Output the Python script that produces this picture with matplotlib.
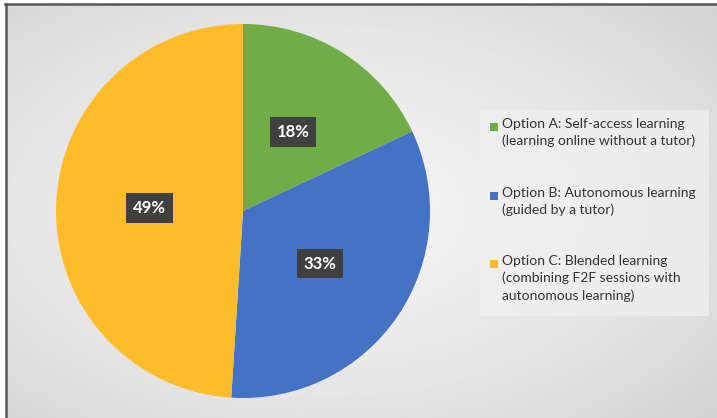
import numpy as np
import matplotlib.pyplot as plt
from matplotlib.lines import Line2D
from matplotlib.patches import Rectangle

plt.rcParams['font.family'] = ['Lato', 'DejaVu Sans']

labels = ['Option A: Self-access learning\n(learning online without a tutor)',
          'Option B: Autonomous learning\n(guided by a tutor)',
          'Option C: Blended learning\n(combining F2F sessions with\nautonomous learning)']
shares = [18, 33, 49]
colors = ['#70ad47', '#4472c4', '#fdbd2b']

W, H = 717, 418
fig = plt.figure(figsize=(W / 100, H / 100), dpi=100)
fig.patch.set_facecolor('white')

# gray radial gradient background
bg = fig.add_axes([6 / W, 0, 711 / W, 414 / H])
bg.set_axis_off()
yy, xx = np.mgrid[0:1:200j, 0:1:340j]
dist = np.sqrt(((xx - 0.45) / 0.75) ** 2 + ((yy - 0.5) / 0.75) ** 2)
shade = 0.955 - 0.13 * np.clip(dist, 0, 1) ** 1.5
bg.imshow(shade, cmap='gray', vmin=0, vmax=1, aspect='auto',
          extent=[0, 1, 0, 1], interpolation='bilinear')
bg.set_xlim(0, 1)
bg.set_ylim(0, 1)

# border lines on top and left
fig.add_artist(Line2D([5 / W, 1], [1 - 3.5 / H, 1 - 3.5 / H],
                      color='#555555', lw=1.8))
fig.add_artist(Line2D([5.5 / W, 5.5 / W], [0, 1 - 3.5 / H],
                      color='#555555', lw=1.8))

r = 187
ax = fig.add_axes([(243 - r) / W, (H - 211 - r) / H, 2 * r / W, 2 * r / H])
wedges, texts, autotexts = ax.pie(
    shares, colors=colors, startangle=90, counterclock=False,
    autopct='%d%%', pctdistance=0.5,
    wedgeprops=dict(linewidth=0),
    textprops=dict(color='white', fontsize=12, fontweight='bold'))
for t in autotexts:
    t.set_bbox(dict(boxstyle='square,pad=0.4', facecolor='#404040',
                    edgecolor='none'))
ax.set_xlim(-1, 1)
ax.set_ylim(-1, 1)
ax.set_aspect('equal')

# legend drawn by hand so the marker sits on the first line
fig.add_artist(Rectangle((480 / W, 1 - 316 / H), 229 / W, 206 / H,
                         transform=fig.transFigure, facecolor='#f0f0f0',
                         edgecolor='none', alpha=0.75))
first_line_y = [127, 196, 264]
for lab, col, y in zip(labels, colors, first_line_y):
    fig.add_artist(Rectangle((490 / W, 1 - (y + 4) / H), 8 / W, 8 / H,
                             transform=fig.transFigure, facecolor=col,
                             edgecolor='none'))
    fig.text(502 / W, 1 - (y - 9) / H, lab, ha='left', va='top',
             fontsize=10, color='#333333', linespacing=1.45)

fig.savefig('out.png', dpi=100)
